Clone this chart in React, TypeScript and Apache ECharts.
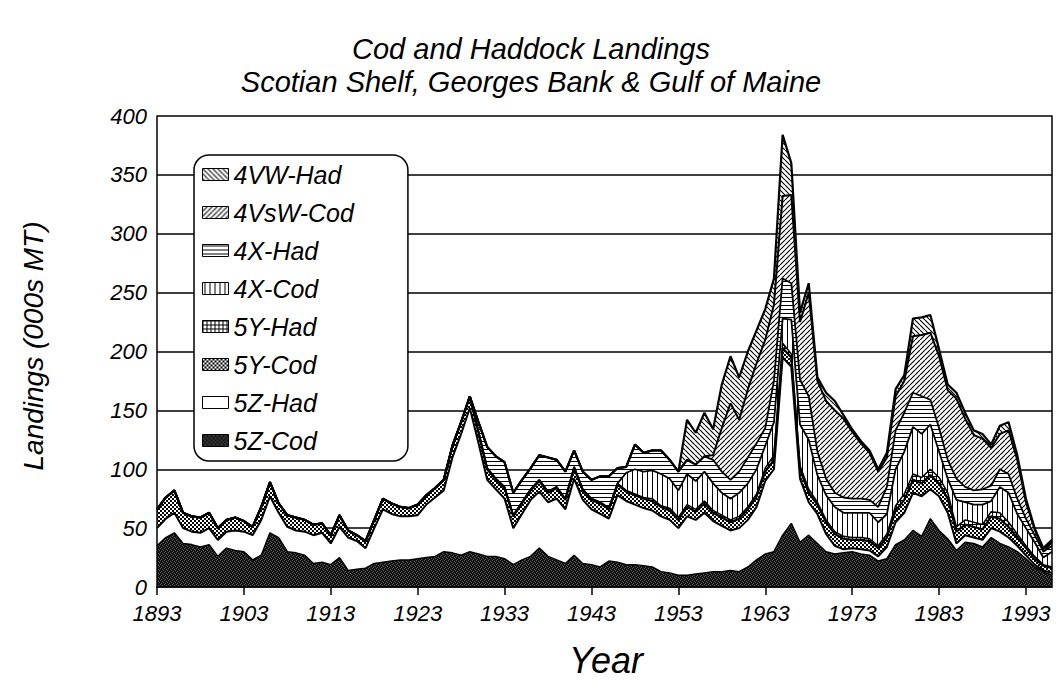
import React, { useEffect, useRef } from "react";
import * as echarts from "echarts";

const FONT = "'Liberation Sans', Arial, Helvetica, sans-serif";

const years = [
  "1893","1894","1895","1896","1897","1898","1899","1900","1901","1902",
  "1903","1904","1905","1906","1907","1908","1909","1910","1911","1912",
  "1913","1914","1915","1916","1917","1918","1919","1920","1921","1922",
  "1923","1924","1925","1926","1927","1928","1929","1930","1931","1932",
  "1933","1934","1935","1936","1937","1938","1939","1940","1941","1942",
  "1943","1944","1945","1946","1947","1948","1949","1950","1951","1952",
  "1953","1954","1955","1956","1957","1958","1959","1960","1961","1962",
  "1963","1964","1965","1966","1967","1968","1969","1970","1971","1972",
  "1973","1974","1975","1976","1977","1978","1979","1980","1981","1982",
  "1983","1984","1985","1986","1987","1988","1989","1990","1991","1992",
  "1993","1994","1995","1996",
];

const cod5Z = [
  35, 42, 46, 37, 36, 34, 36, 26, 33, 31,
  30, 23, 27, 46, 42, 30, 29, 27, 20, 21,
  19, 25, 14, 15, 16, 20, 21, 22, 23, 23,
  24, 25, 26, 30, 29, 27, 30, 28, 26, 26,
  24, 19, 23, 26, 33, 26, 23, 20, 27, 20,
  19, 17, 22, 21, 19, 19, 18, 17, 13, 12,
  10, 10, 11, 12, 13, 13, 14, 13, 17, 23,
  28, 30, 44, 54, 38, 44, 37, 30, 28, 29,
  30, 28, 27, 22, 24, 36, 40, 48, 43, 58,
  48, 41, 31, 38, 37, 34, 42, 37, 34, 30,
  24, 17, 13, 10,
];
const had5Z = [
  15, 16, 17, 13, 11, 12, 14, 14, 14, 17,
  17, 21, 30, 31, 21, 21, 19, 20, 24, 25,
  18, 26, 28, 24, 17, 30, 45, 40, 37, 37,
  37, 45, 50, 52, 81, 103, 122, 94, 65, 57,
  51, 31, 39, 48, 48, 46, 52, 46, 65, 54,
  47, 45, 36, 57, 54, 51, 49, 48, 47, 45,
  40, 50, 46, 51, 43, 39, 34, 37, 40, 45,
  62, 70, 151, 133, 54, 28, 25, 15, 7, 3,
  3, 4, 4, 4, 10, 19, 23, 32, 34, 25,
  29, 22, 6, 6, 5, 6, 8, 10, 8, 5,
  3, 2, 1, 2,
];
const cod5Y = [
  16, 18, 19, 13, 13, 13, 13, 10, 10, 11,
  9, 7, 11, 12, 8, 10, 11, 10, 9, 8,
  7, 10, 6, 5, 6, 7, 9, 9, 8, 7,
  9, 8, 8, 9, 10, 10, 10, 9, 9, 8,
  9, 10, 9, 8, 9, 8, 9, 8, 9, 8,
  8, 9, 8, 9, 8, 8, 8, 8, 8, 8,
  7, 8, 7, 8, 7, 7, 7, 8, 9, 9,
  8, 8, 8, 8, 8, 8, 8, 10, 10, 9,
  7, 8, 8, 7, 8, 10, 11, 11, 11, 12,
  11, 12, 10, 9, 9, 9, 10, 11, 9, 7,
  6, 5, 4, 4,
];
const had5Y = [
  0, 0, 0, 0, 0, 0, 0, 0, 0, 0,
  0, 0, 0, 0, 0, 0, 0, 0, 0, 0,
  0, 0, 0, 0, 0, 0, 0, 0, 0, 0,
  0, 0, 0, 0, 0, 0, 0, 1, 1, 1,
  1, 1, 1, 1, 1, 1, 1, 1, 1, 1,
  1, 1, 1, 1, 1, 1, 1, 2, 1, 2,
  2, 2, 2, 2, 2, 2, 2, 2, 2, 2,
  3, 4, 4, 3, 3, 3, 2, 2, 2, 2,
  2, 2, 2, 2, 3, 4, 5, 5, 5, 5,
  5, 5, 4, 4, 4, 4, 4, 5, 4, 3,
  2, 2, 1, 1,
];
const cod4X = [
  0, 0, 0, 0, 0, 0, 0, 0, 0, 0,
  0, 0, 0, 0, 0, 0, 0, 0, 0, 0,
  0, 0, 0, 0, 0, 0, 0, 0, 0, 0,
  0, 0, 0, 0, 0, 0, 0, 0, 0, 0,
  0, 0, 0, 0, 0, 0, 0, 0, 0, 0,
  0, 0, 0, 0, 15, 21, 22, 24, 27, 25,
  23, 26, 24, 25, 23, 19, 18, 20, 20, 21,
  19, 28, 21, 29, 35, 42, 23, 21, 21, 20,
  21, 21, 22, 20, 17, 31, 36, 40, 37, 38,
  22, 12, 23, 15, 15, 17, 9, 22, 25, 17,
  15, 12, 6, 13,
];
const had4X = [
  0, 0, 0, 0, 0, 0, 0, 0, 0, 0,
  0, 0, 0, 0, 0, 0, 0, 0, 0, 0,
  0, 0, 0, 0, 0, 0, 0, 0, 0, 0,
  0, 0, 0, 0, 0, 0, 0, 8, 18, 19,
  21, 19, 19, 18, 21, 29, 23, 23, 14, 15,
  16, 22, 27, 13, 5, 21, 16, 17, 20, 16,
  16, 12, 14, 13, 20, 18, 16, 18, 22, 22,
  15, 35, 34, 31, 38, 37, 20, 14, 12, 13,
  12, 12, 11, 13, 23, 33, 33, 29, 32, 21,
  20, 16, 18, 13, 12, 13, 13, 15, 16, 13,
  8, 6, 5, 5,
];
const cod4VsW = [
  0, 0, 0, 0, 0, 0, 0, 0, 0, 0,
  0, 0, 0, 0, 0, 0, 0, 0, 0, 0,
  0, 0, 0, 0, 0, 0, 0, 0, 0, 0,
  0, 0, 0, 0, 0, 0, 0, 0, 0, 0,
  0, 0, 0, 0, 0, 0, 0, 0, 0, 0,
  0, 0, 0, 0, 0, 0, 0, 0, 0, 0,
  0, 0, 0, 0, 4, 37, 65, 44, 58, 68,
  75, 65, 70, 75, 49, 88, 60, 66, 70, 67,
  57, 47, 40, 30, 25, 29, 27, 48, 52, 57,
  61, 59, 68, 58, 47, 43, 32, 30, 37, 33,
  14, 5, 2, 3,
];
const had4VW = [
  0, 0, 0, 0, 0, 0, 0, 0, 0, 0,
  0, 0, 0, 0, 0, 0, 0, 0, 0, 0,
  0, 0, 0, 0, 0, 0, 0, 0, 0, 0,
  0, 0, 0, 0, 0, 0, 0, 0, 0, 0,
  0, 0, 0, 0, 0, 0, 0, 0, 0, 0,
  0, 0, 0, 0, 0, 0, 0, 0, 0, 0,
  0, 34, 27, 37, 22, 37, 40, 36, 32, 28,
  26, 22, 52, 27, 8, 8, 3, 7, 8, 3,
  2, 2, 2, 2, 4, 6, 5, 15, 15, 15,
  6, 5, 5, 5, 4, 4, 3, 7, 7, 4,
  3, 1, 1, 2,
];

const yTicks = [0, 50, 100, 150, 200, 250, 300, 350, 400];
const titleLines = [
  "Cod and Haddock Landings",
  "Scotian Shelf, Georges Bank & Gulf of Maine",
];

function tile(w: number, h: number, draw: (c: CanvasRenderingContext2D) => void, bg = "#fff") {
  const cv = document.createElement("canvas");
  cv.width = w;
  cv.height = h;
  const ctx = cv.getContext("2d") as CanvasRenderingContext2D;
  ctx.fillStyle = bg;
  ctx.fillRect(0, 0, w, h);
  draw(ctx);
  return { image: cv, repeat: "repeat", imageWidth: w, imageHeight: h } as any;
}

function makePatterns() {
  const back = tile(5, 5, (c) => {
    c.strokeStyle = "#000";
    c.lineWidth = 1.1;
    c.beginPath();
    for (const k of [-5, 0, 5]) {
      c.moveTo(k, 0);
      c.lineTo(k + 5, 5);
    }
    c.stroke();
  });
  const fwd = tile(5, 5, (c) => {
    c.strokeStyle = "#000";
    c.lineWidth = 1.1;
    c.beginPath();
    for (const k of [-5, 0, 5]) {
      c.moveTo(k, 5);
      c.lineTo(k + 5, 0);
    }
    c.stroke();
  });
  const horiz = tile(5, 4, (c) => {
    c.fillStyle = "#000";
    c.fillRect(0, 1, 5, 1);
  });
  const vert = tile(5, 5, (c) => {
    c.fillStyle = "#000";
    c.fillRect(2, 0, 1, 5);
  });
  const grid = tile(4, 4, (c) => {
    c.fillStyle = "#000";
    c.fillRect(0, 0, 4, 1);
    c.fillRect(0, 0, 1, 4);
  });
  const checker = tile(4, 4, (c) => {
    c.fillStyle = "#fff";
    c.fillRect(0, 0, 2, 2);
    c.fillRect(2, 2, 2, 2);
  }, "#000");
  const speck = tile(4, 4, (c) => {
    c.fillStyle = "#5a5a5a";
    c.fillRect(0, 0, 1, 1);
    c.fillRect(2, 1, 1, 1);
    c.fillRect(1, 3, 1, 1);
    c.fillRect(3, 2, 1, 1);
  }, "#141414");
  return { back, fwd, horiz, vert, grid, checker, speck, white: "#ffffff" };
}

export default function App() {
  const ref = useRef<HTMLDivElement>(null);

  useEffect(() => {
    if (!ref.current) return;
    const chart = echarts.init(ref.current, undefined, { renderer: "svg" });
    const p = makePatterns();

    const layers = [
      { name: "5Z-Cod", data: cod5Z, fill: p.speck, lw: 1.5 },
      { name: "5Z-Had", data: had5Z, fill: p.white, lw: 2 },
      { name: "5Y-Cod", data: cod5Y, fill: p.checker, lw: 2.2 },
      { name: "5Y-Had", data: had5Y, fill: p.grid, lw: 1.5 },
      { name: "4X-Cod", data: cod4X, fill: p.vert, lw: 1.8 },
      { name: "4X-Had", data: had4X, fill: p.horiz, lw: 1.8 },
      { name: "4VsW-Cod", data: cod4VsW, fill: p.fwd, lw: 2 },
      { name: "4VW-Had", data: had4VW, fill: p.back, lw: 2.2 },
    ];

    const series = layers.map((l) => ({
      name: l.name,
      type: "line",
      stack: "total",
      data: l.data,
      symbol: "none",
      showSymbol: false,
      smooth: false,
      lineStyle: { color: "#000", width: l.lw },
      itemStyle: { color: l.fill },
      areaStyle: { color: l.fill, opacity: 1 },
      emphasis: { disabled: true },
    }));

    const legendData = layers
      .slice()
      .reverse()
      .map((l) => ({
        name: l.name,
        icon: "rect",
        itemStyle: { color: l.fill, borderColor: "#000", borderWidth: 1 },
      }));

    chart.setOption({
      animation: false,
      backgroundColor: "#fff",
      textStyle: { fontFamily: FONT },
      grid: { left: 157, right: 7, top: 116, bottom: 97, containLabel: false },
      legend: {
        data: legendData,
        orient: "vertical",
        left: 194,
        top: 155,
        itemWidth: 26,
        itemHeight: 12,
        itemGap: 13,
        padding: [7, 54, 8, 8],
        borderColor: "#000",
        borderWidth: 1.5,
        borderRadius: 15,
        backgroundColor: "#fff",
        selectedMode: false,
        textStyle: {
          fontFamily: FONT,
          fontSize: 25,
          fontStyle: "italic",
          color: "#000",
          lineHeight: 22,
        },
      },
      xAxis: {
        type: "category",
        data: years,
        boundaryGap: false,
        z: 5,
        axisLine: { show: true, lineStyle: { color: "#000", width: 1.5 } },
        axisTick: {
          show: true,
          interval: 9,
          length: 8,
          lineStyle: { color: "#000", width: 1.5 },
        },
        axisLabel: {
          interval: 9,
          margin: 15,
          fontFamily: FONT,
          fontSize: 22,
          fontStyle: "italic",
          color: "#000",
        },
        splitLine: { show: false },
      },
      yAxis: [
        {
          type: "value",
          min: yTicks[0],
          max: yTicks[yTicks.length - 1],
          interval: 50,
          axisLine: { show: false },
          axisTick: { show: false },
          axisLabel: {
            margin: 10,
            fontFamily: FONT,
            fontSize: 22,
            fontStyle: "italic",
            color: "#000",
            padding: [0, 0, 4, 0],
          },
          splitLine: { show: true, lineStyle: { color: "#000", width: 1.5 } },
        },
        {
          type: "value",
          position: "left",
          min: 0,
          max: 400,
          interval: 50,
          z: 5,
          axisLine: { show: true, onZero: false, lineStyle: { color: "#000", width: 1.5 } },
          axisTick: { show: false },
          axisLabel: { show: false },
          splitLine: { show: false },
        },
        {
          type: "value",
          position: "right",
          min: 0,
          max: 400,
          interval: 50,
          z: 5,
          axisLine: { show: true, onZero: false, lineStyle: { color: "#000", width: 1.5 } },
          axisTick: { show: false },
          axisLabel: { show: false },
          splitLine: { show: false },
        },
      ],
      graphic: [
        {
          type: "text",
          x: 531,
          y: 49,
          style: {
            text: titleLines[0],
            font: `italic 29px ${FONT}`,
            fill: "#000",
            align: "center",
            verticalAlign: "middle",
            textAlign: "center",
            textVerticalAlign: "middle",
          },
        },
        {
          type: "text",
          x: 531,
          y: 82,
          style: {
            text: titleLines[1],
            font: `italic 29px ${FONT}`,
            fill: "#000",
            align: "center",
            verticalAlign: "middle",
            textAlign: "center",
            textVerticalAlign: "middle",
          },
        },
        {
          type: "text",
          x: 33,
          y: 346,
          rotation: Math.PI / 2,
          style: {
            text: "Landings (000s MT)",
            font: `italic 28px ${FONT}`,
            fill: "#000",
            align: "center",
            verticalAlign: "middle",
            textAlign: "center",
            textVerticalAlign: "middle",
          },
        },
        {
          type: "text",
          x: 606,
          y: 660,
          style: {
            text: "Year",
            font: `italic 36px ${FONT}`,
            fill: "#000",
            align: "center",
            verticalAlign: "middle",
            textAlign: "center",
            textVerticalAlign: "middle",
          },
        },
      ],
      series,
    });

    return () => chart.dispose();
  }, []);

  return (
    <div
      ref={ref}
      style={{ position: "absolute", left: 0, top: 0, width: 1059, height: 684 }}
    />
  );
}
